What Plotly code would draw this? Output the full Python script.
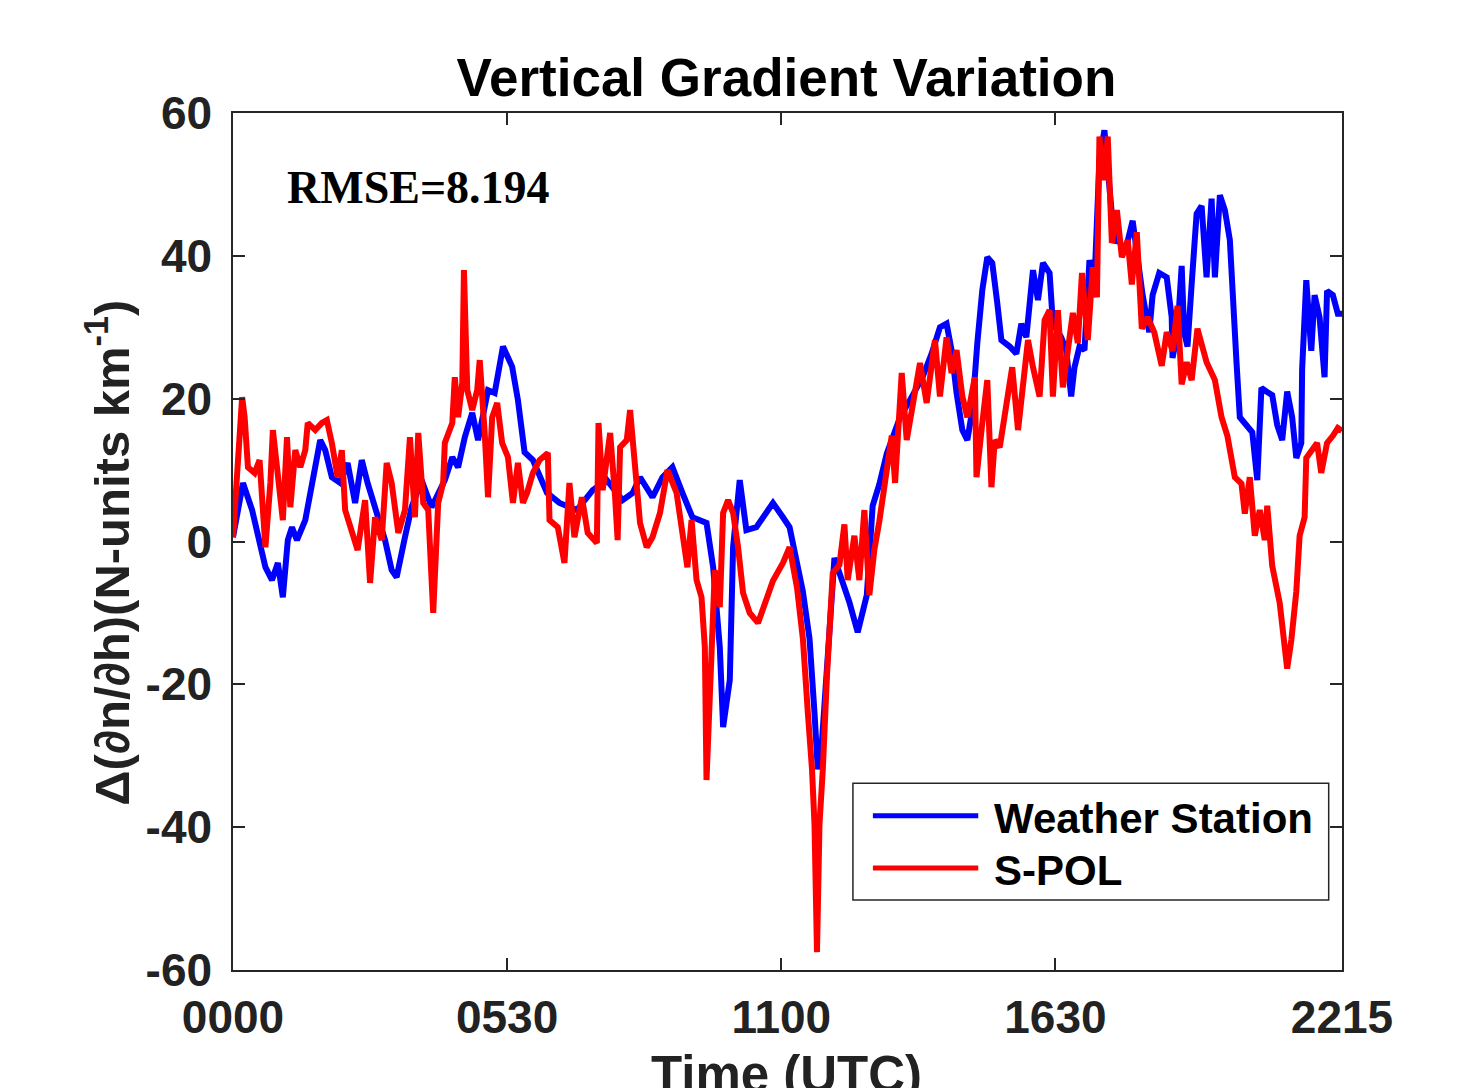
import plotly.graph_objects as go

# ---- data (time in minutes after 0000 UTC, gradient difference values) ----
ws_time = [0, 12, 23, 30, 39, 47, 54, 60, 66, 71, 77, 87, 96, 105, 111, 119, 129, 138, 147, 155,
           162, 174, 183, 191, 197, 207, 215, 227, 239, 255, 264, 271, 279, 288, 295, 307, 315, 325, 336, 343,
           351, 361, 378, 393, 414, 433, 450, 469, 481, 490, 505, 517, 529, 541, 553, 570, 578, 586, 590, 598,
           602, 610, 618, 630, 643, 650, 662, 670, 686, 694, 700, 704, 709, 715, 721, 724, 730, 742, 752, 763,
           770, 778, 787, 803, 815, 830, 841, 851, 859, 865, 871, 878, 884, 890, 896, 902, 908, 914, 920, 925,
           935, 943, 949, 955, 963, 969, 975, 983, 987, 997, 1003, 1009, 1013, 1019, 1025, 1031, 1037, 1043, 1049, 1055,
           1061, 1065, 1073, 1083, 1089, 1095, 1103, 1107, 1115, 1124, 1130, 1131, 1137, 1142, 1145, 1149, 1154, 1160, 1166, 1172,
           1178, 1182, 1188, 1194, 1200, 1203, 1208, 1212, 1220, 1227, 1233, 1238, 1244, 1251, 1257, 1263, 1269, 1275, 1280, 1286,
           1287, 1292, 1298, 1302, 1308, 1314, 1317, 1324, 1330, 1335]
ws_value = [0.6, 8.2, 4.4, 1.2, -3.6, -5.4, -3.0, -7.8, 0.2, 2.0, 0.2, 3.0, 9.0, 14.2, 12.8, 9.0, 8.2, 11.0, 5.4, 11.4,
            8.2, 3.4, 0.2, -4.0, -5.0, 0.6, 4.8, 8.6, 4.8, 8.6, 11.8, 10.4, 14.6, 18.0, 14.2, 21.2, 20.8, 27.3, 24.5, 19.8,
            12.5, 11.4, 6.8, 5.4, 4.4, 7.2, 8.6, 5.8, 6.8, 9.0, 6.2, 9.0, 10.4, 6.8, 3.4, 2.6, -3.6, -14.8, -26.0, -19.4,
            -0.8, 8.6, 1.6, 2.0, 4.0, 5.4, 3.4, 2.0, -7.0, -13.6, -24.0, -31.9, -28.0, -18.8, -8.5, -2.3, -4.4, -8.5, -12.7, -7.5,
            5.0, 8.0, 12.3, 17.4, 19.8, 23.0, 26.3, 30.0, 30.5, 26.8, 20.8, 15.6, 14.2, 18.4, 27.8, 35.2, 39.8, 39.0, 33.4, 28.2,
            27.3, 26.3, 30.5, 28.6, 38.0, 33.8, 39.0, 37.6, 30.5, 28.6, 26.8, 20.3, 24.4, 27.3, 26.8, 39.4, 36.2, 53.4, 57.6, 49.2,
            41.8, 42.8, 40.2, 44.9, 39.7, 34.5, 29.3, 34.5, 37.6, 37.0, 31.4, 25.7, 29.3, 38.6, 29.3, 27.3, 36.0, 45.9, 47.0, 37.0,
            48.0, 37.0, 48.5, 46.4, 42.2, 34.5, 25.1, 17.4, 16.3, 15.3, 8.6, 21.5, 21.0, 20.5, 16.3, 14.2, 21.0, 17.4, 11.7, 13.8,
            24.1, 36.6, 26.7, 34.5, 31.4, 23.0, 35.1, 34.5, 31.9, 31.9]

spol_time = [0, 6, 11, 14, 18, 26, 32, 39, 45, 48, 54, 60, 65, 69, 75, 81, 87, 90, 99, 107,
             113, 119, 126, 131, 135, 143, 150, 159, 165, 171, 179, 185, 191, 199, 207, 213, 219, 223, 229, 235,
             241, 247, 253, 255, 264, 267, 271, 276, 278, 282, 288, 294, 297, 303, 307, 312, 318, 324, 331, 337,
             343, 349, 354, 361, 369, 379, 381, 391, 399, 405, 411, 420, 427, 438, 440, 445, 454, 460, 463, 466,
             474, 478, 481, 486, 490, 498, 505, 514, 523, 534, 541, 547, 552, 558, 564, 568, 570, 576, 580, 586,
             590, 596, 602, 608, 614, 622, 632, 643, 650, 662, 670, 679, 686, 692, 697, 700, 703, 706, 710, 715,
             718, 722, 730, 736, 740, 748, 754, 760, 766, 772, 778, 787, 793, 797, 805, 811, 818, 827, 835, 845,
             851, 859, 865, 871, 878, 884, 893, 895, 902, 908, 913, 917, 923, 931, 938, 945, 951, 957, 963, 971,
             977, 983, 987, 993, 999, 1005, 1011, 1017, 1022, 1029, 1035, 1040, 1043, 1049, 1053, 1058, 1064, 1070, 1077, 1082,
             1088, 1094, 1101, 1109, 1118, 1124, 1131, 1137, 1142, 1148, 1154, 1161, 1172, 1182, 1190, 1197, 1206, 1214, 1218, 1224,
             1230, 1236, 1242, 1245, 1251, 1260, 1266, 1269, 1274, 1280, 1284, 1290, 1292, 1299, 1305, 1310, 1317, 1324, 1330, 1335]
spol_value = [0.6, 10.4, 20.2, 17.4, 10.4, 9.6, 11.4, -0.8, 8.2, 15.6, 9.0, 3.0, 14.6, 4.8, 12.8, 10.4, 12.8, 16.6, 15.6, 16.6,
              17.0, 13.8, 9.0, 12.8, 4.4, 1.2, -1.2, 5.8, -5.8, 3.4, 0.2, 11.0, 8.2, 1.2, 4.4, 14.6, 3.4, 15.2, 5.4, 4.4,
              -10.0, 5.4, 8.2, 13.8, 16.6, 23.0, 17.4, 22.2, 38.0, 21.2, 18.4, 21.2, 25.4, 15.2, 6.2, 17.4, 19.4, 13.8, 11.8, 5.4,
              11.0, 5.4, 6.8, 9.6, 11.4, 12.4, 3.0, 2.0, -3.0, 8.2, 0.6, 6.2, 1.2, -0.2, 16.6, 7.2, 15.2, 6.2, 0.2, 13.2,
              14.2, 18.4, 13.8, 8.6, 2.6, -0.8, 0.6, 4.0, 10.0, 6.8, 1.2, -3.6, 3.0, -5.4, -7.8, -14.8, -33.4, -12.4, -4.0, -9.2,
              4.0, 5.8, 4.0, -0.8, -7.2, -10.0, -11.4, -7.8, -5.5, -3.0, -0.8, -6.5, -13.6, -24.0, -31.9, -39.6, -57.5, -39.6, -31.9, -18.8,
              -13.6, -4.4, -3.3, 2.4, -5.4, 0.8, -5.4, 4.4, -7.5, -1.2, 2.8, 9.6, 14.8, 8.2, 23.6, 14.2, 19.4, 25.0, 19.4, 28.2,
              20.3, 28.6, 23.6, 26.8, 20.3, 17.4, 23.0, 9.0, 16.6, 22.6, 7.6, 14.2, 13.2, 19.8, 24.4, 15.6, 23.0, 28.2, 24.4, 20.3,
              31.0, 32.4, 20.3, 32.4, 21.6, 26.3, 32.0, 27.8, 37.6, 28.2, 38.4, 34.2, 56.7, 50.6, 56.7, 41.8, 46.4, 39.8, 42.2, 36.0,
              43.3, 29.8, 31.4, 29.3, 24.6, 29.3, 26.7, 33.0, 22.0, 25.1, 22.6, 29.8, 25.1, 22.6, 17.4, 14.8, 9.0, 8.1, 3.9, 9.0,
              0.8, 4.4, 0.2, 5.0, -3.4, -8.6, -14.8, -17.8, -13.8, -7.0, 0.8, 3.4, 11.7, 12.7, 13.8, 9.6, 13.8, 14.8, 15.9, 15.5]

x_tick_vals = [0, 330, 660, 990, 1335]
x_tick_text = ["0000", "0530", "1100", "1630", "2215"]
y_tick_vals = [-60, -40, -20, 0, 20, 40, 60]
y_tick_text = ["-60", "-40", "-20", "0", "20", "40", "60"]
series_names = ["Weather Station", "S-POL"]
series_colors = ["#0000FF", "#FF0000"]
rmse_text = "RMSE=8.194"

AX = "#262626"
SANS = "Liberation Sans, Arial, Helvetica, sans-serif"

fig = go.Figure()
fig.add_trace(go.Scatter(x=ws_time, y=ws_value, mode="lines", name=series_names[0],
                         line=dict(color=series_colors[0], width=6), showlegend=False))
fig.add_trace(go.Scatter(x=spol_time, y=spol_value, mode="lines", name=series_names[1],
                         line=dict(color=series_colors[1], width=6), showlegend=False))

axis_common = dict(showgrid=False, zeroline=False, showline=True, linecolor=AX, linewidth=1.5,
                   mirror="ticks", ticks="inside", ticklen=12, tickwidth=1.5, tickcolor=AX,
                   tickfont=dict(family=SANS, size=46, color="#222222", weight="bold"))

fig.update_xaxes(range=[0, 1335], tickvals=x_tick_vals, ticktext=x_tick_text,
                 ticklabelstandoff=6, **axis_common)
fig.update_yaxes(range=[-60, 60], tickvals=y_tick_vals, ticktext=y_tick_text,
                 ticklabelstandoff=10, **axis_common)

# legend box drawn as layout decoration
lg_x0, lg_x1, lg_y0, lg_y1 = 0.559, 0.988, 0.0817, 0.218
shapes = [dict(type="rect", xref="paper", yref="paper", x0=lg_x0, x1=lg_x1, y0=lg_y0, y1=lg_y1,
               line=dict(color=AX, width=1.5), fillcolor="white", layer="above")]
legend_rows = [0.180, 0.119]
annotations = []
for name, color, yy in zip(series_names, series_colors, legend_rows):
    shapes.append(dict(type="line", xref="paper", yref="paper", x0=0.577, x1=0.672, y0=yy, y1=yy,
                       line=dict(color=color, width=5), layer="above"))
    annotations.append(dict(xref="paper", yref="paper", x=0.684, y=yy - 0.003, xanchor="left", yanchor="middle",
                            text=name, showarrow=False,
                            font=dict(family=SANS, size=42, color="black", weight="bold")))

annotations.append(dict(xref="paper", yref="paper", x=0.047, y=0.9125, xanchor="left", yanchor="middle",
                        text=rmse_text, showarrow=False,
                        font=dict(family="Liberation Serif, Times New Roman, serif", size=46,
                                  color="black", weight="bold")))
annotations.append(dict(xref="paper", yref="paper", x=-0.1127, y=0.487, xanchor="center", yanchor="middle",
                        textangle=-90, showarrow=False,
                        text="\u0394(\u2202n/\u2202h)(N-units km<sup>-1</sup>)",
                        font=dict(family=SANS, size=49, color="#222222", weight="bold")))
annotations.append(dict(xref="paper", yref="paper", x=0.4995, y=-0.086, xanchor="center", yanchor="top",
                        text="Time (UTC)", showarrow=False,
                        font=dict(family=SANS, size=51, color="#222222", weight="bold")))

fig.update_layout(
    width=1476, height=1088,
    margin=dict(l=233, r=134, t=113, b=118),
    paper_bgcolor="white", plot_bgcolor="white",
    title=dict(text="Vertical Gradient Variation", x=0.5328, xanchor="center",
               y=1 - 77 / 1088, yanchor="middle",
               font=dict(family=SANS, size=53, color="black", weight="bold")),
    shapes=shapes, annotations=annotations, showlegend=False,
)

fig.write_html("out.html")
